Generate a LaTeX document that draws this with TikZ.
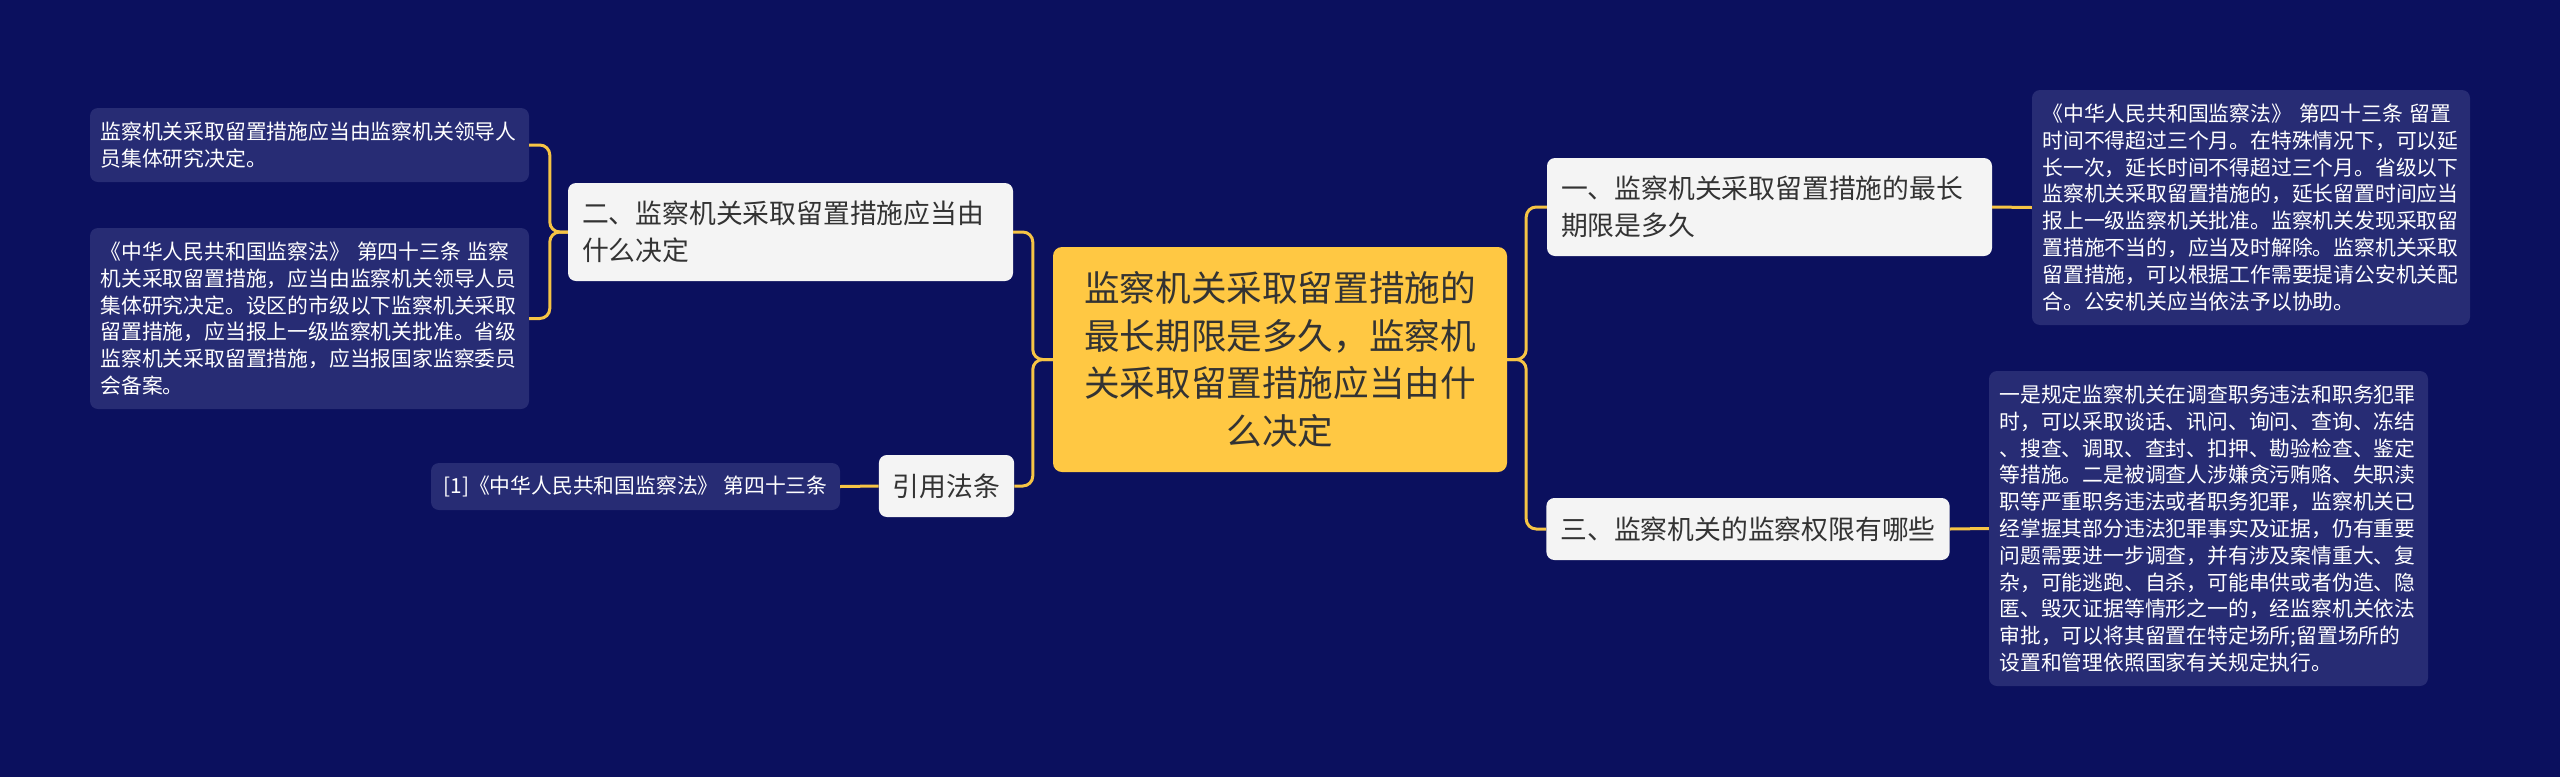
\documentclass[tikz,border=0pt]{standalone}
\usepackage{fontspec}
\setmainfont{Noto Sans CJK SC}
\definecolor{bgc}{HTML}{0B105E}
\definecolor{leafc}{HTML}{272C74}
\definecolor{linec}{HTML}{F6C445}
\definecolor{centerc}{HTML}{FFC843}
\definecolor{nodec}{HTML}{F4F4F4}
\definecolor{txtc}{HTML}{333333}
\tikzset{
  leafbox/.style={rectangle, rounded corners=8pt, fill=leafc, text=white,
    font=\fontsize{20.8}{26.8}\selectfont, inner xsep=10.5pt, inner ysep=0pt},
  topicbox/.style={rectangle, rounded corners=8pt, fill=nodec, text=txtc,
    font=\fontsize{26.8}{36.7}\selectfont, inner xsep=14pt, inner ysep=0pt},
  centerbox/.style={rectangle, rounded corners=9pt, fill=centerc, text=txtc,
    font=\fontsize{35.6}{47.8}\selectfont, inner xsep=10pt, inner ysep=0pt,
    align=center, text width=434pt, minimum width=454pt, minimum height=225pt},
  conn/.style={draw=linec, line width=3pt, rounded corners=10pt}
}
\begin{document}
\begin{tikzpicture}[x=1pt,y=-1pt]
\useasboundingbox (0,0) rectangle (2560,777);
\fill[bgc] (0,0) rectangle (2560,777);

\node[centerbox] (c) at (1280,359.5) {监察机关采取留置措施的\\最长期限是多久，监察机\\关采取留置措施应当由什\\么决定};

\node[topicbox, align=left, text width=417pt, minimum width=445pt, minimum height=98pt] (n2) at (790.5,232) {二、监察机关采取留置措施应当由\\什么决定};
\node[topicbox, align=center, minimum width=135pt, minimum height=62pt] (ref) at (946.5,486) {引用法条};
\node[topicbox, align=left, text width=417pt, minimum width=445pt, minimum height=98pt] (n1) at (1769.5,207) {一、监察机关采取留置措施的最长\\期限是多久};
\node[topicbox, align=center, minimum width=402pt, minimum height=62pt] (n3) at (1748,529) {三、监察机关的监察权限有哪些};

\node[leafbox, align=left, text width=418pt, minimum width=439pt, minimum height=74pt] (l1) at (309.5,145) {监察机关采取留置措施应当由监察机关领导人\\员集体研究决定。};
\node[leafbox, align=left, text width=418pt, minimum width=439pt, minimum height=181pt] (l2) at (309.5,318.5) {《中华人民共和国监察法》 第四十三条 监察\\机关采取留置措施，应当由监察机关领导人员\\集体研究决定。设区的市级以下监察机关采取\\留置措施，应当报上一级监察机关批准。省级\\监察机关采取留置措施，应当报国家监察委员\\会备案。};
\node[leafbox, align=center, minimum width=409pt, minimum height=47pt] (lr) at (635.5,486.5) {[1]《中华人民共和国监察法》 第四十三条};

\node[leafbox, align=left, text width=417pt, minimum width=438pt, minimum height=235pt] (r1) at (2251,207.5) {《中华人民共和国监察法》 第四十三条 留置\\时间不得超过三个月。在特殊情况下，可以延\\长一次，延长时间不得超过三个月。省级以下\\监察机关采取留置措施的，延长留置时间应当\\报上一级监察机关批准。监察机关发现采取留\\置措施不当的，应当及时解除。监察机关采取\\留置措施，可以根据工作需要提请公安机关配\\合。公安机关应当依法予以协助。};
\node[leafbox, align=left, text width=418pt, minimum width=439pt, minimum height=315pt] (r2) at (2208.5,528.5) {一是规定监察机关在调查职务违法和职务犯罪\\时，可以采取谈话、讯问、询问、查询、冻结\\、搜查、调取、查封、扣押、勘验检查、鉴定\\等措施。二是被调查人涉嫌贪污贿赂、失职渎\\职等严重职务违法或者职务犯罪，监察机关已\\经掌握其部分违法犯罪事实及证据，仍有重要\\问题需要进一步调查，并有涉及案情重大、复\\杂，可能逃跑、自杀，可能串供或者伪造、隐\\匿、毁灭证据等情形之一的，经监察机关依法\\审批，可以将其留置在特定场所;留置场所的\\设置和管理依照国家有关规定执行。};

\draw[conn] (c.west) -- ++(-20,0) |- (n2.east);
\draw[conn] (c.west) -- ++(-20,0) |- (ref.east);
\draw[conn] (c.east) -- ++(19,0) |- (n1.west);
\draw[conn] (c.east) -- ++(19,0) |- (n3.west);
\draw[conn] (n2.west) -- ++(-18,0) |- (l1.east);
\draw[conn] (n2.west) -- ++(-18,0) |- (l2.east);
\draw[conn] (ref.west) -- (lr.east);
\draw[conn] (n1.east) -- (r1.west);
\draw[conn] (n3.east) -- (r2.west);
\end{tikzpicture}
\end{document}
